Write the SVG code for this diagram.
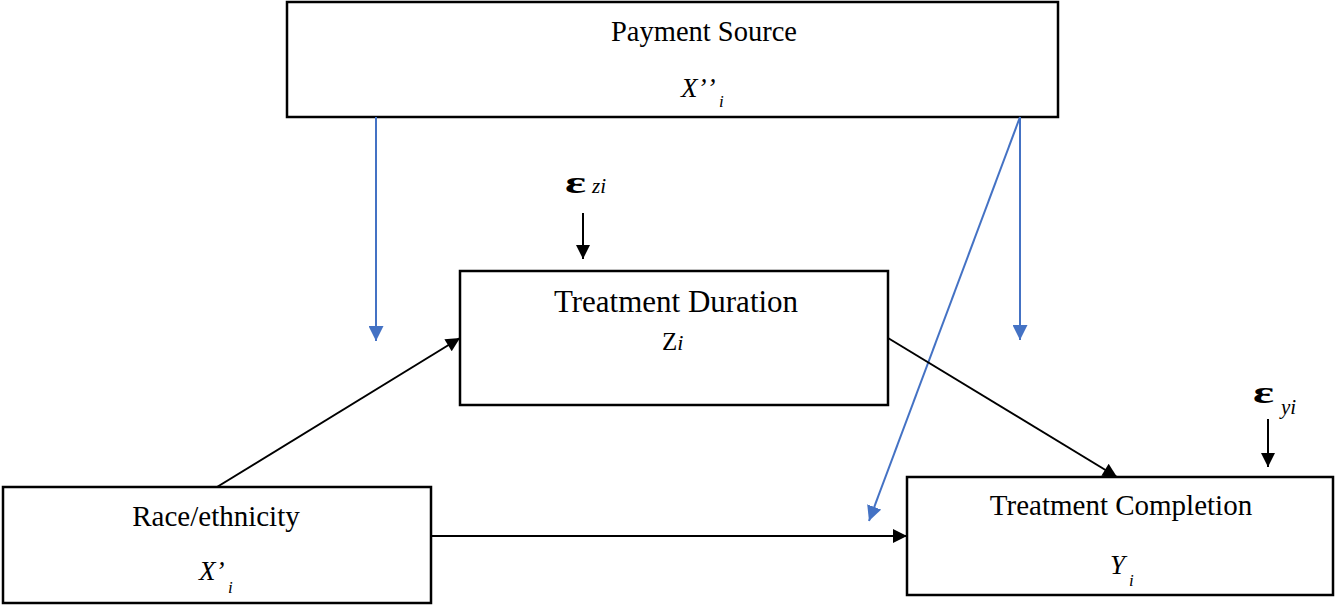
<svg xmlns="http://www.w3.org/2000/svg" width="1335" height="605" viewBox="0 0 1335 605">
<style>
.box{fill:#fff;stroke:#000;stroke-width:2.5}
.t{font-family:"Liberation Serif","Times New Roman",serif;fill:#000}
.it{font-style:italic}
.eps{font-family:"Liberation Serif","Times New Roman",serif;font-weight:bold;font-size:32px;fill:#000}
.blk{stroke:#000;stroke-width:2;fill:none}
.blu{stroke:#4472C4;stroke-width:2;fill:none}
</style>
<defs>
<marker id="ab" viewBox="0 0 14 14" refX="14" refY="7" markerWidth="15" markerHeight="14" markerUnits="userSpaceOnUse" orient="auto">
<path d="M0,0 L14,7 L0,14 Z" fill="#000"/>
</marker>
<marker id="au" viewBox="0 0 14 14" refX="14" refY="7" markerWidth="15" markerHeight="15" markerUnits="userSpaceOnUse" orient="auto">
<path d="M0,0 L14,7 L0,14 Z" fill="#4472C4"/>
</marker>
</defs>
<rect width="1335" height="605" fill="#fff"/>
<g id="payment">
<rect class="box" x="287" y="2" width="771" height="115"/>
<text class="t" x="704" y="41" font-size="28.5" text-anchor="middle">Payment Source</text>
<text class="t it" x="681" y="97" font-size="27">X’<tspan dx="3">’</tspan></text>
<text class="t it" x="719" y="107" font-size="17">i</text>
</g>
<g id="duration">
<rect class="box" x="460" y="271" width="428" height="134"/>
<text class="t" x="676" y="312" font-size="31" text-anchor="middle">Treatment Duration</text>
<text class="t" x="662" y="350" font-size="25">Z<tspan class="it" font-size="22">i</tspan></text>
</g>
<g id="race">
<rect class="box" x="3" y="487" width="428" height="116"/>
<text class="t" x="216" y="526" font-size="29" text-anchor="middle">Race/ethnicity</text>
<text class="t it" x="199" y="580" font-size="27">X’</text>
<text class="t it" x="228" y="593" font-size="17">i</text>
</g>
<g id="completion">
<rect class="box" x="907" y="477" width="426" height="118"/>
<text class="t" x="1121" y="515" font-size="29" text-anchor="middle">Treatment Completion</text>
<text class="t it" x="1110" y="574" font-size="27">Y</text>
<text class="t it" x="1129" y="586" font-size="17">i</text>
</g>
<g id="err-z">
<text class="eps" x="565" y="193" textLength="21" lengthAdjust="spacingAndGlyphs">ε</text>
<text class="t it" x="592" y="193" font-size="21">zi</text>
</g>
<g id="err-y">
<text class="eps" x="1253" y="403" textLength="21" lengthAdjust="spacingAndGlyphs">ε</text>
<text class="t it" x="1281" y="414" font-size="21">yi</text>
</g>
<g id="connectors">
<line class="blu" x1="376" y1="117" x2="376" y2="341" marker-end="url(#au)"/>
<line class="blu" x1="1020" y1="117" x2="1020" y2="340" marker-end="url(#au)"/>
<line class="blu" x1="1020" y1="117" x2="869" y2="521" marker-end="url(#au)"/>
<line class="blk" x1="217" y1="487" x2="460" y2="338" marker-end="url(#ab)"/>
<line class="blk" x1="431" y1="536" x2="907" y2="536" marker-end="url(#ab)"/>
<line class="blk" x1="888" y1="338" x2="1117" y2="477" marker-end="url(#ab)"/>
<line class="blk" x1="583" y1="213" x2="583" y2="259" marker-end="url(#ab)"/>
<line class="blk" x1="1268" y1="419" x2="1268" y2="467" marker-end="url(#ab)"/>
</g>
</svg>
